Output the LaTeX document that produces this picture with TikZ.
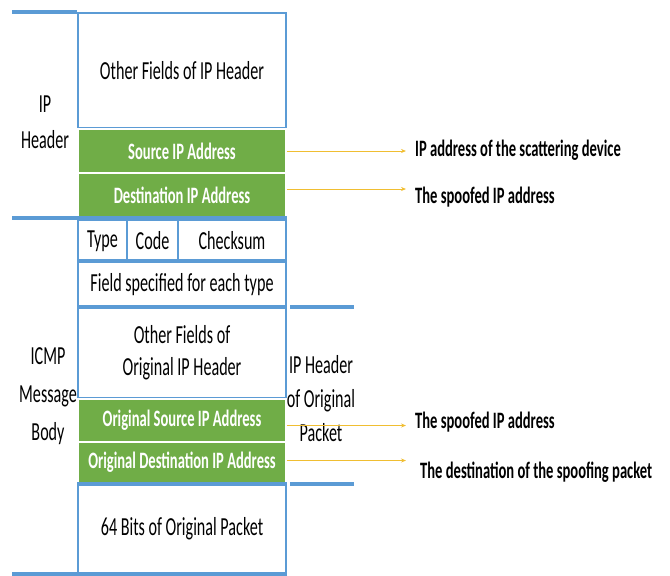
\documentclass[tikz,border=0pt]{standalone}
\usepackage{fontspec}
\setmainfont{Carlito}[FakeStretch=0.62]
\usepackage{xcolor}
\usepackage{tikz}
\usetikzlibrary{arrows.meta, positioning, calc}
\definecolor{fieldgreen}{RGB}{112, 173, 71}
\definecolor{fieldblue}{RGB}{91, 155, 213}
\definecolor{pointeryellow}{RGB}{240, 190, 50}

\tikzset{
  whitebox/.style={draw=fieldblue, fill=white, line width=2pt, inner sep=0pt,
                   minimum width=208pt, font=\fontsize{26}{32}\selectfont, align=center},
  greenbox/.style={draw=white, fill=fieldgreen, line width=1.5pt, inner sep=0pt,
                   minimum width=208pt, text=white, font=\fontsize{23.5}{24}\bfseries\selectfont},
  bar/.style={draw=fieldblue, line width=4pt},
  sidelabel/.style={align=center, font=\fontsize{26}{36}\selectfont},
  note/.style={anchor=west, inner xsep=0pt, font=\fontsize{23.5}{24}\bfseries\selectfont},
  pointer/.style={draw=pointeryellow, line width=0.8pt, shorten >=9pt,
                  -{Stealth[length=5pt, width=4pt]}}
}

\begin{document}
\begin{tikzpicture}[x=1pt, y=-1pt]
  \useasboundingbox (0,0) rectangle (670,576);

  % outer IP header
  \node[whitebox, minimum height=115pt] (ipother) at (182,70.5) {Other Fields of IP Header};
  \node[greenbox, minimum height=44pt] (srcip) at (182,151) {Source IP Address};
  \node[greenbox, minimum height=44pt] (dstip) at (182,195) {Destination IP Address};

  % ICMP part
  \node[whitebox, minimum width=49pt, minimum height=42pt] (type) at (102.5,241) {Type};
  \node[whitebox, minimum width=51pt, minimum height=42pt] (code) at (152.5,241) {Code};
  \node[whitebox, minimum width=108pt, minimum height=42pt] (checksum) at (232,241) {Checksum};
  \node[whitebox, minimum height=46pt] (field) at (182,285) {Field specified for each type};
  \node[whitebox, minimum height=90pt] (origother) at (182,353) {Other Fields of\\Original IP Header};
  \node[greenbox, minimum height=43pt] (origsrc) at (182,420.5) {Original Source IP Address};
  \node[greenbox, minimum height=41pt] (origdst) at (182,462.5) {Original Destination IP Address};
  \node[whitebox, minimum height=88pt] (bits) at (182,529) {64 Bits of Original Packet};

  % brackets
  \draw[bar] (ipother.north west) -- ++(-65,0);
  \draw[bar] (type.north west) ++(0,-1.5) -- ++(-65,0) -- ($(checksum.north east)+(0,-1.5)$);
  \draw[bar] (field.north west) -- (field.north east);
  \draw[bar] (origother.north west) -- (origother.north east);
  \draw[bar] (origother.north east) ++(3,0) -- ++(64,0);
  \draw[bar] (bits.north west) -- (bits.north east) ++(3,0) -- ++(64,0);
  \draw[bar] (bits.south east) -- (bits.south west) -- ++(-65,0);

  % side labels
  \node[sidelabel] (iphdr) at (45,122) {IP\\Header};
  \node[sidelabel, font=\fontsize{26}{38}\selectfont] (icmpbody) at (48,396) {ICMP\\Message\\Body};
  \node[sidelabel, font=\fontsize{26}{34}\selectfont] (orighdr) at (321,399) {IP Header\\of Original\\Packet};

  % notes
  \node[note] (scatter) at (415,150) {IP address of the scattering device};
  \node[note] (spoofa) at (415,197) {The spoofed IP address};
  \node[note] (spoofb) at (415,422) {The spoofed IP address};
  \node[note] (target) at (420,472) {The destination of the spoofing packet};

  \draw[pointer] (srcip.east) -- (srcip.east -| scatter.west);
  \draw[pointer] ([yshift=6pt]dstip.east) -- ([yshift=6pt]dstip.east -| spoofa.west);
  \draw[pointer] ([yshift=-5pt]origsrc.east) -- ([yshift=-5pt]origsrc.east -| spoofb.west);
  \draw[pointer] ([yshift=2pt]origdst.east) -- ([yshift=2pt]origdst.east -| spoofb.west);
\end{tikzpicture}
\end{document}
